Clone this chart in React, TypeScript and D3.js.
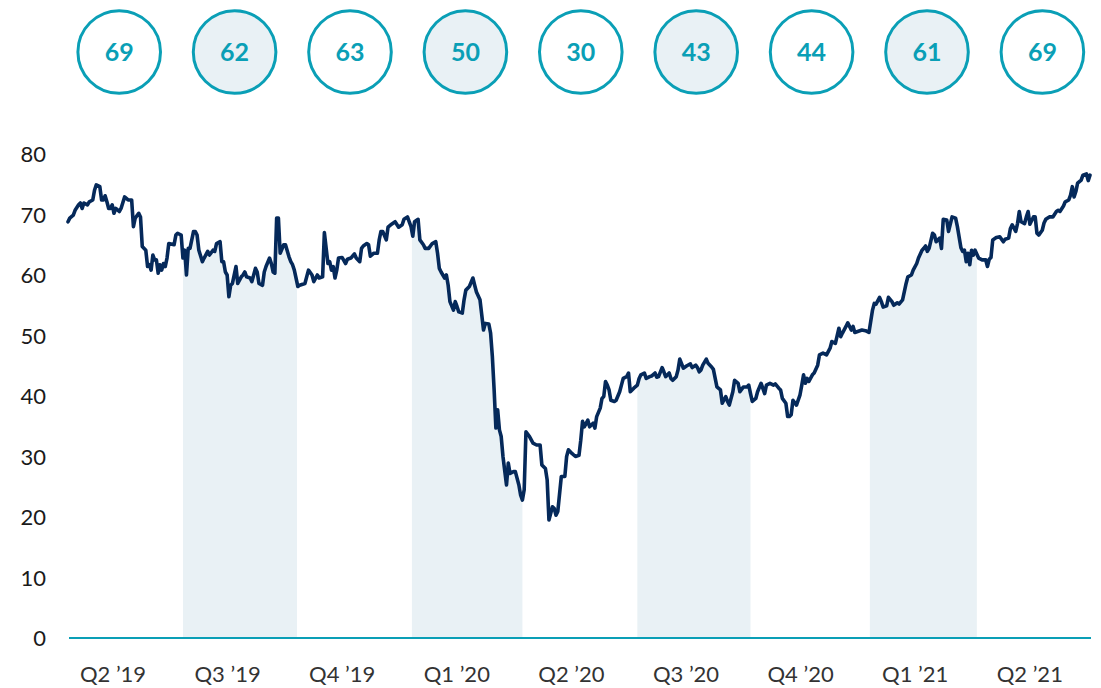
import React from "react";
import * as d3 from "d3";

// ---------- data ----------
const quarters = ["Q2 \u201919", "Q3 \u201919", "Q4 \u201919", "Q1 \u201920", "Q2 \u201920", "Q3 \u201920", "Q4 \u201920", "Q1 \u201921", "Q2 \u201921"];
const quarterScores = [69, 62, 63, 50, 30, 43, 44, 61, 69];
// first trading-day index of each quarter, and total length of the series
const quarterStartDay = [0, 65, 129.5, 194.5, 257, 322, 386, 453.5, 514];
const lastDay = 578;
const shadedQuarters = [1, 3, 5, 7];
const yTicks = [0, 10, 20, 30, 40, 50, 60, 70, 80];

const days = [
  0, 1, 3, 4, 6, 7, 8, 9, 11, 12, 14, 15, 16, 18, 19, 20, 21, 22, 23, 24, 25, 26, 27, 29, 30, 32, 34, 36, 37, 38, 40, 41, 42, 44, 45, 46, 47, 48, 49, 50,
  51, 52, 53, 54, 55, 56, 57, 60, 61, 62, 64, 65, 66, 67, 68, 69, 71, 72, 73, 74, 76, 77, 79, 80, 82, 83, 84, 86, 87, 88, 89, 90, 91, 92, 93, 95, 96, 98, 99, 100,
  101, 103, 104, 106, 107, 108, 110, 111, 112, 114, 115, 116, 117, 118, 119, 120, 122, 123, 125, 126, 127, 128, 130, 131, 134, 136, 138, 139, 141, 142, 144, 145, 147, 148, 149, 150,
  151, 152, 153, 155, 157, 158, 160, 162, 163, 165, 166, 167, 169, 170, 171, 173, 175, 176, 177, 178, 180, 181, 183, 185, 187, 189, 190, 192, 193, 194, 195, 196, 198, 199,
  201, 202, 204, 206, 208, 209, 210, 211, 213, 214, 215, 216, 218, 219, 220, 221, 223, 224, 225, 227, 229, 230, 231, 233, 235, 236, 238, 239, 240, 241, 242, 243, 244, 245, 246, 248, 249, 250,
  252, 253, 255, 256, 257, 258, 259, 261, 263, 265, 267, 268, 270, 271, 272, 274, 275, 276, 277, 279, 281, 282, 283, 285, 287, 289, 290, 291, 292, 294, 295, 297, 298, 299,
  301, 302, 303, 304, 305, 306, 307, 309, 310, 312, 313, 314, 316, 317, 318, 319, 320, 322, 323, 324, 326, 327, 329, 330, 332, 333, 334, 336, 337, 338, 340, 341, 342, 344, 345, 346, 348, 349, 350,
  352, 353, 355, 356, 357, 358, 359, 361, 362, 364, 365, 367, 369, 370, 372, 373, 374, 376, 377, 379, 380, 382, 384, 385, 386, 387, 389, 390, 392, 394, 395, 397, 399, 400,
  402, 403, 404, 406, 407, 408, 409, 410, 412, 414, 415, 416, 417, 418, 419, 421, 422, 424, 425, 427, 429, 431, 432, 434, 436, 437, 438, 440, 441, 443, 444, 445, 447, 449, 451, 453,
  455, 456, 457, 459, 460, 461, 463, 464, 466, 467, 469, 470, 472, 474, 475, 477, 478, 480, 481, 483, 484, 485, 486, 487, 489, 490, 491, 493, 494, 495, 497, 498, 500,
  502, 503, 505, 506, 507, 508, 509, 510, 511, 512, 513, 515, 517, 519, 520, 521, 522, 523, 525, 527, 529, 530, 532, 533, 534, 536, 537, 538, 539, 541, 542, 543, 544, 546, 547, 548, 549,
  551, 552, 553, 555, 557, 559, 560, 561, 563, 564, 566, 567, 568, 569, 570, 571, 573, 574, 576, 577, 578,
];

const values = [
  68.8, 69.4, 69.9, 70.7, 71.6, 71.9, 71.0, 71.9, 71.6, 72.1, 72.4, 74.0, 74.9, 74.6, 72.4, 72.4, 73.1, 72.1, 71.0, 71.0, 71.6, 70.2, 71.0, 70.5, 71.0, 72.9, 72.4, 72.4, 68.0, 69.4, 70.2, 69.6, 64.7, 64.1, 61.4, 61.7, 60.8, 63.3, 62.5, 62.5,
  60.3, 61.7, 60.8, 61.9, 61.4, 62.8, 65.2, 65.0, 66.6, 66.9, 66.6, 62.8, 64.1, 60.0, 64.4, 64.4, 67.2, 67.2, 66.6, 64.1, 62.2, 62.8, 63.9, 63.3, 64.1, 63.9, 65.2, 65.5, 62.2, 62.2, 60.5, 60.0, 56.4, 58.3, 58.6, 61.4, 58.6, 59.7, 60.0, 60.5,
  59.7, 59.5, 58.9, 61.1, 60.5, 58.6, 58.3, 60.5, 61.4, 62.8, 61.9, 60.5, 60.3, 69.4, 69.4, 63.6, 65.0, 65.0, 63.0, 62.2, 61.7, 60.8, 58.1, 58.3, 58.6, 60.8, 60.0, 58.9, 60.0, 59.5, 59.7, 67.0, 61.9, 62.2, 60.8, 61.4,
  59.5, 60.8, 62.8, 62.9, 61.9, 62.6, 62.8, 63.5, 62.8, 62.2, 64.4, 64.8, 65.2, 65.0, 63.1, 63.6, 63.6, 65.8, 67.2, 67.2, 65.8, 67.9, 68.4, 68.8, 67.9, 68.3, 69.2, 69.6, 68.8, 68.0, 66.4, 68.8, 69.2, 65.8,
  65.0, 64.4, 64.4, 65.2, 65.5, 63.6, 61.1, 60.5, 59.5, 60.0, 58.3, 55.6, 54.2, 55.6, 54.8, 53.9, 53.7, 55.9, 57.5, 58.1, 59.5, 58.3, 57.2, 55.9, 50.9, 52.0, 51.9, 50.4, 46.5, 41.0, 34.7, 37.7, 34.4, 33.3, 30.0, 25.3, 28.9, 27.2,
  27.5, 27.5, 25.3, 23.6, 22.8, 24.5, 34.1, 33.3, 32.2, 31.9, 31.9, 28.6, 28.0, 26.1, 19.5, 21.7, 21.4, 20.3, 20.9, 26.7, 26.7, 30.0, 31.1, 30.5, 30.0, 30.2, 32.7, 35.8, 34.9, 36.0, 34.9, 35.5, 34.7, 36.6,
  38.0, 39.6, 39.9, 42.4, 41.8, 41.0, 39.3, 39.1, 39.3, 40.7, 41.8, 42.9, 43.2, 43.8, 40.7, 41.0, 41.3, 41.8, 42.9, 43.5, 43.8, 42.9, 43.2, 43.3, 43.8, 43.1, 43.2, 44.7, 44.0, 43.2, 43.8, 42.9, 42.6, 43.2, 44.3, 46.1, 44.6, 44.8, 45.0,
  45.3, 44.7, 45.1, 44.7, 44.0, 44.3, 45.1, 46.1, 45.4, 44.8, 44.4, 41.5, 41.0, 38.8, 39.9, 39.1, 38.5, 40.7, 42.6, 42.1, 40.7, 41.5, 41.5, 41.8, 40.4, 39.1, 39.6, 40.7, 42.1, 40.4, 41.8, 42.1, 41.8, 42.0,
  41.3, 41.0, 39.6, 38.8, 36.6, 36.6, 36.9, 39.3, 38.5, 40.2, 41.8, 43.5, 42.1, 42.9, 42.4, 43.5, 43.8, 45.1, 46.8, 47.1, 46.8, 47.9, 49.0, 48.7, 51.2, 49.8, 50.4, 51.5, 52.1, 50.9, 51.5, 50.5, 50.7, 50.9, 50.8, 50.5,
  54.2, 55.3, 55.2, 56.3, 55.6, 54.7, 54.9, 56.3, 55.6, 55.0, 55.4, 55.2, 55.9, 58.6, 59.7, 60.0, 60.8, 61.9, 62.8, 64.1, 64.4, 64.8, 63.9, 64.4, 66.9, 66.6, 65.5, 66.1, 64.4, 69.2, 69.1, 67.2, 69.6,
  69.4, 68.0, 64.5, 63.9, 64.1, 62.2, 63.6, 61.7, 64.1, 63.3, 64.1, 62.8, 62.5, 62.5, 61.4, 62.6, 62.9, 65.8, 66.2, 66.3, 65.5, 65.9, 66.1, 67.7, 68.3, 67.2, 68.5, 70.5, 68.8, 68.5, 69.6, 70.5, 68.4, 69.6, 69.6, 66.9, 66.6,
  67.4, 68.6, 69.2, 69.6, 69.6, 70.5, 70.7, 70.5, 71.4, 72.1, 72.4, 73.2, 74.6, 72.9, 73.8, 75.2, 75.7, 76.5, 76.7, 75.6, 76.5,
];

// ---------- styling ----------
const W = 1101;
const H = 688;
const TEAL = "#0a9fb6";
const NAVY = "#05295a";
const SHADE = "#e9f1f5";
const FONT = "Lato, 'Open Sans', sans-serif";

export default function App() {
  const points = days.map((d, i) => ({ d, v: values[i] }));

  const x = d3.scaleLinear().domain([0, lastDay]).range([68, 1090]);
  const y = d3.scaleLinear().domain([0, 80]).range([638, 154]);

  const circleScale = d3.scaleBand<string>().domain(quarters).range([61.5, 1100.1]);
  const labelScale = d3.scaleBand<string>().domain(quarters).range([55.7, 1087.1]);

  const line = d3
    .line<{ d: number; v: number }>()
    .x((p) => x(p.d))
    .y((p) => y(p.v))
    .curve(d3.curveLinear);

  const area = d3
    .area<{ d: number; v: number }>()
    .x((p) => x(p.d))
    .y0(y(0))
    .y1((p) => y(p.v))
    .curve(d3.curveLinear);

  const quarterEnd = (i: number) => (i + 1 < quarterStartDay.length ? quarterStartDay[i + 1] : lastDay);

  return (
    <div style={{ position: "absolute", left: 0, top: 0 }}>
      <svg width={W} height={H} viewBox={`0 0 ${W} ${H}`} style={{ display: "block", background: "#fff" }}>
        <defs>
          {shadedQuarters.map((qi) => (
            <clipPath id={`clip-q${qi}`} key={qi}>
              <rect
                x={x(quarterStartDay[qi])}
                y={0}
                width={x(quarterEnd(qi)) - x(quarterStartDay[qi])}
                height={H}
              />
            </clipPath>
          ))}
        </defs>

        {/* shaded areas for alternate quarters */}
        {shadedQuarters.map((qi) => (
          <path key={qi} d={area(points) || ""} fill={SHADE} clipPath={`url(#clip-q${qi})`} />
        ))}

        {/* baseline */}
        <line x1={x(0) + 1} x2={x(lastDay) + 1} y1={y(0)} y2={y(0)} stroke={TEAL} strokeWidth={2} />

        {/* y tick labels */}
        {yTicks.map((t) => (
          <text
            key={t}
            x={46}
            y={y(t) + 8}
            textAnchor="end"
            fontFamily={FONT}
            fontSize={22}
            fill="#1a1a1a"
          >
            {t}
          </text>
        ))}

        {/* quarter labels */}
        {quarters.map((q) => (
          <text
            key={q}
            x={(labelScale(q) || 0) + labelScale.bandwidth() / 2}
            y={682}
            textAnchor="middle"
            fontFamily={FONT}
            fontSize={22}
            fill="#333"
          >
            {q}
          </text>
        ))}

        {/* main line */}
        <path d={line(points) || ""} fill="none" stroke={NAVY} strokeWidth={3.6} strokeLinejoin="round" strokeLinecap="round" />

        {/* quarter score circles */}
        {quarters.map((q, i) => {
          const cx = (circleScale(q) || 0) + circleScale.bandwidth() / 2;
          return (
            <g key={q}>
              <circle
                cx={cx}
                cy={52}
                r={41.3}
                fill={shadedQuarters.includes(i) ? SHADE : "#fff"}
                stroke={TEAL}
                strokeWidth={3}
              />
              <text
                x={cx}
                y={61}
                textAnchor="middle"
                fontFamily={FONT}
                fontWeight={700}
                fontSize={25}
                fill={TEAL}
              >
                {quarterScores[i]}
              </text>
            </g>
          );
        })}
      </svg>
    </div>
  );
}
